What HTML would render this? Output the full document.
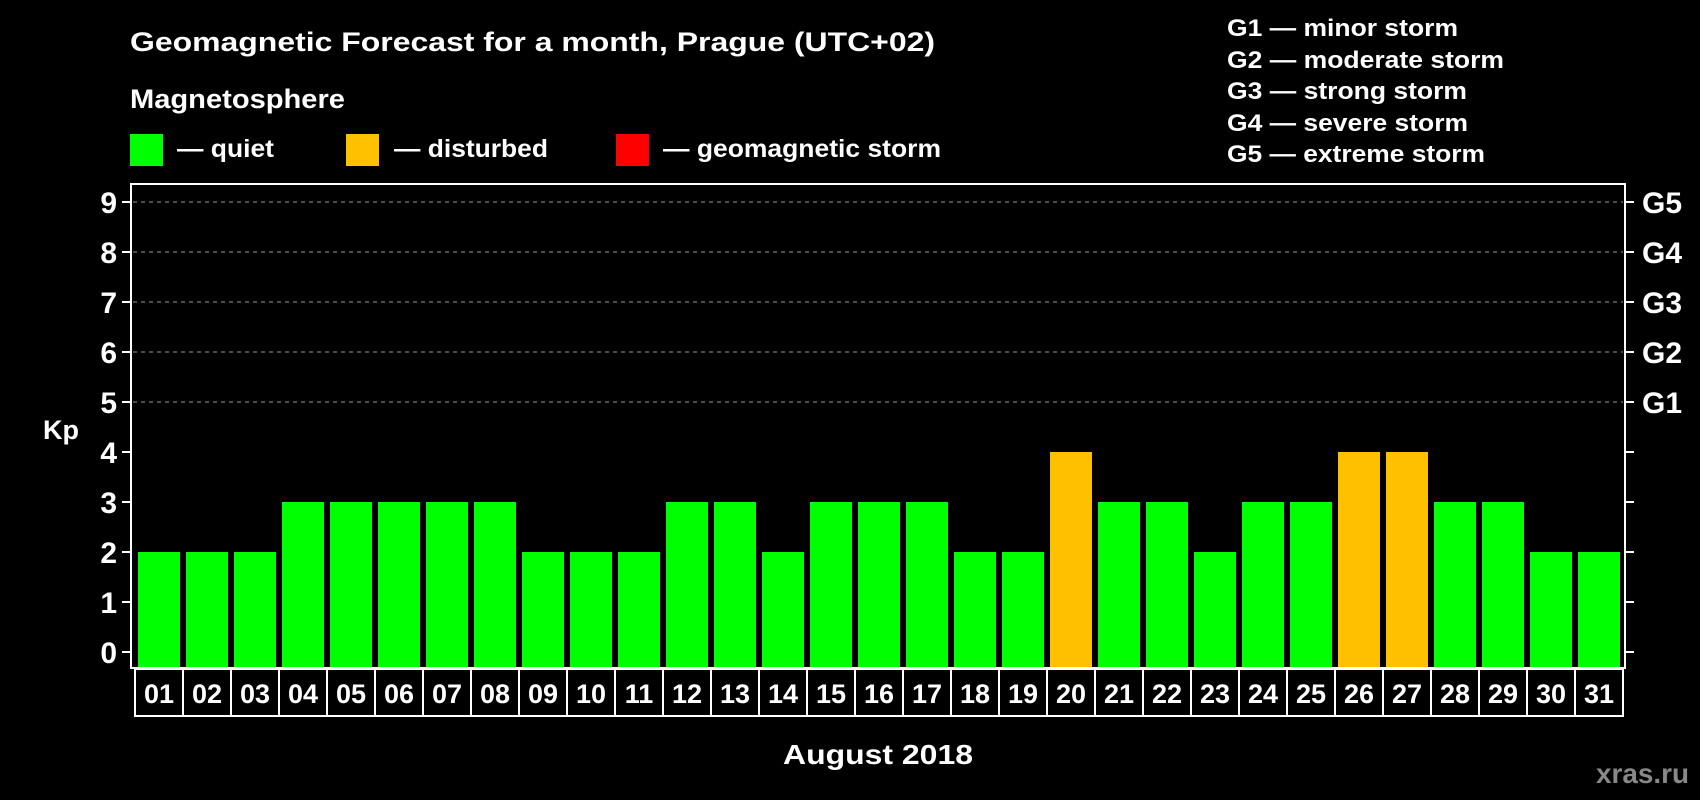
<!DOCTYPE html>
<html><head><meta charset="utf-8"><style>
html,body{margin:0;padding:0;background:#000;}
svg{display:block;font-family:"Liberation Sans",Arial,sans-serif;font-weight:bold;}
</style></head><body>
<svg id="chart" width="1700" height="800" viewBox="0 0 1700 800">
<rect x="0" y="0" width="1700" height="800" fill="#000"/>
<text x="130" y="51" fill="#fff" font-size="27" textLength="805" lengthAdjust="spacingAndGlyphs">Geomagnetic Forecast for a month, Prague (UTC+02)</text>
<text x="130" y="108" fill="#fff" font-size="27" textLength="215" lengthAdjust="spacingAndGlyphs">Magnetosphere</text>
<rect x="130" y="134" width="33" height="32" fill="#00ff00"/>
<text x="177" y="157" fill="#fff" font-size="25" textLength="97" lengthAdjust="spacingAndGlyphs">— quiet</text>
<rect x="346" y="134" width="33" height="32" fill="#ffc000"/>
<text x="394" y="157" fill="#fff" font-size="25" textLength="154" lengthAdjust="spacingAndGlyphs">— disturbed</text>
<rect x="616" y="134" width="33" height="32" fill="#ff0000"/>
<text x="663" y="157" fill="#fff" font-size="25" textLength="278" lengthAdjust="spacingAndGlyphs">— geomagnetic storm</text>
<g fill="#fff" font-size="24">
<text x="1227" y="36" textLength="231" lengthAdjust="spacingAndGlyphs">G1 — minor storm</text>
<text x="1227" y="68" textLength="277" lengthAdjust="spacingAndGlyphs">G2 — moderate storm</text>
<text x="1227" y="99" textLength="240" lengthAdjust="spacingAndGlyphs">G3 — strong storm</text>
<text x="1227" y="131" textLength="241" lengthAdjust="spacingAndGlyphs">G4 — severe storm</text>
<text x="1227" y="162" textLength="258" lengthAdjust="spacingAndGlyphs">G5 — extreme storm</text>
</g>
<text x="43" y="439" fill="#fff" font-size="27">Kp</text>
<g id="grid"></g>
<g id="bars"></g>
<rect x="131" y="184" width="1494" height="484" fill="none" stroke="#fff" stroke-width="2"/>
<g id="axes"></g>
<g id="xlabels"></g>
<text x="783" y="764" fill="#fff" font-size="28" textLength="190" lengthAdjust="spacingAndGlyphs">August 2018</text>
<text x="1596" y="783" fill="#888" font-size="28" textLength="93" lengthAdjust="spacingAndGlyphs">xras.ru</text>
</svg>
<script>
const days = ["01","02","03","04","05","06","07","08","09","10","11","12","13","14","15","16","17","18","19","20","21","22","23","24","25","26","27","28","29","30","31"];
const kpValues = [2,2,2,3,3,3,3,3,2,2,2,3,3,2,3,3,3,2,2,4,3,3,2,3,3,4,4,3,3,2,2];
const yTicks = [0,1,2,3,4,5,6,7,8,9];
const gLabels = ["G1","G2","G3","G4","G5"];
const gLevels = [5,6,7,8,9];

const NS = "http://www.w3.org/2000/svg";
const y0 = 652, yUnit = (652 - 202) / 9;
function yScale(v){ return y0 - v * yUnit; }
const pitch = 48, barLeft0 = 138, barW = 42, boxLeft0 = 135;
const plotBottom = 667, boxTop = 669, boxH = 47;
function xBar(i){ return barLeft0 + i * pitch; }
function mk(tag, attrs, parent){ const e = document.createElementNS(NS, tag); for (const k in attrs) e.setAttribute(k, attrs[k]); parent.appendChild(e); return e; }
function color(v){ return v >= 5 ? "#ff0000" : (v >= 4 ? "#ffc000" : "#00ff00"); }

const grid = document.getElementById("grid");
const bars = document.getElementById("bars");
const axes = document.getElementById("axes");
const xl = document.getElementById("xlabels");

yTicks.forEach(t => {
  const y = yScale(t);
  if (t >= 5) {
    const g = mk("line", {x1:133, x2:1623, y1:y, y2:y, stroke:"#999", "stroke-width":1, "stroke-dasharray":"4,4"}, grid);
    
    
  }
  const tl = mk("line", {x1:122, x2:131, y1:y, y2:y, stroke:"#fff", "stroke-width":2}, axes);
  
  
  const tr = mk("line", {x1:1625, x2:1634, y1:y, y2:y, stroke:"#fff", "stroke-width":2}, axes);
  
  
  const lb = mk("text", {x:117, y:y + 11, fill:"#fff", "font-size":30, "text-anchor":"end"}, axes);
  lb.textContent = t;
  
  
});

gLabels.forEach((g, i) => {
  const lb = mk("text", {x:1642, y:yScale(gLevels[i]) + 11, fill:"#fff", "font-size":30}, axes);
  lb.textContent = g;
  
  
});

kpValues.forEach((v, i) => {
  const y = yScale(v);
  const b = mk("rect", {x:xBar(i), y:y, width:barW, height:plotBottom - y, fill:color(v)}, bars);
  
  
});

days.forEach((d, i) => {
  const bx = mk("rect", {x:boxLeft0 + i * pitch, y:boxTop, width:pitch, height:boxH, fill:"none", stroke:"#fff", "stroke-width":2}, xl);
  
  
  const t = mk("text", {x:boxLeft0 + i * pitch + pitch / 2, y:703, fill:"#fff", "font-size":27, "text-anchor":"middle"}, xl);
  t.textContent = d;
  
  
});
</script>
</body></html>
